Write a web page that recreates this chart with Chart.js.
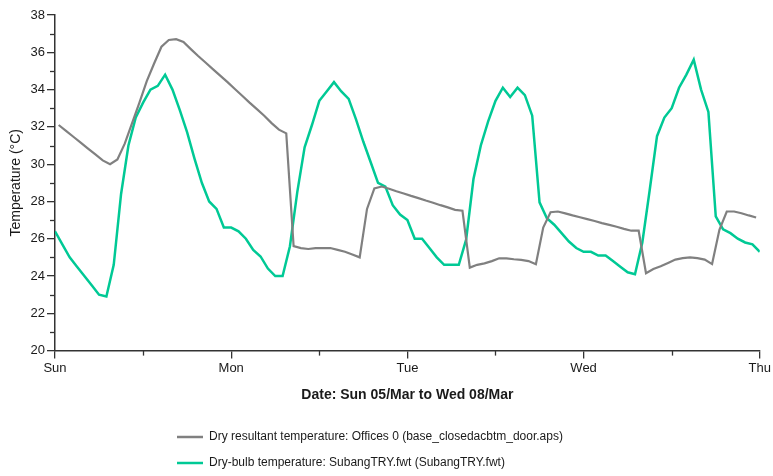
<!DOCTYPE html>
<html>
<head>
<meta charset="utf-8">
<script src="https://cdn.jsdelivr.net/npm/chart.js@4.4.1/dist/chart.umd.min.js"></script>
<style>
  html, body { margin: 0; padding: 0; background: #fff; }
  #wrap { width: 773px; height: 476px; position: relative; }
</style>
</head>
<body>
<div id="wrap"><canvas id="chart"></canvas></div>
<script>
/* ---------- data (hourly, Sun 00:00 -> Thu 00:00) ---------- */
var dayLabels = ['Sun', 'Mon', 'Tue', 'Wed', 'Thu'];
var hoursPerDay = 24;

// dry-bulb: one value per hour, hours 0..96
var dryBulb = [
  26.4, 25.7, 25.0, 24.5, 24.0, 23.5, 23.0, 22.9, 24.6, 28.4, 31.0, 32.5,
  33.3, 34.0, 34.2, 34.8, 34.0, 32.9, 31.7, 30.3, 29.0, 28.0, 27.6, 26.6,
  26.6, 26.4, 26.0, 25.4, 25.05, 24.4, 24.0, 24.0, 25.6, 28.5, 30.9, 32.1,
  33.4, 33.9, 34.4, 33.9, 33.5, 32.4, 31.2, 30.1, 29.0, 28.8, 27.8, 27.3,
  27.0, 26.0, 26.0, 25.5, 25.0, 24.6, 24.6, 24.6, 25.95, 29.2, 31.0, 32.3,
  33.4, 34.1, 33.6, 34.1, 33.7, 32.6, 27.95, 27.1, 26.75, 26.3, 25.85, 25.5,
  25.3, 25.3, 25.1, 25.1, 24.8, 24.5, 24.2, 24.1, 25.8, 28.6, 31.5, 32.5,
  33.0, 34.1, 34.8, 35.6, 34.0, 32.8, 27.2, 26.5, 26.3, 26.0, 25.8, 25.7,
  25.3
];

// dry resultant: hourly averages, plotted at the half hour (0.5 .. 95.5)
var dryResultant = [
  32.1, 31.78, 31.47, 31.15, 30.83, 30.52, 30.2, 30.0, 30.25, 31.1, 32.2, 33.3,
  34.45, 35.4, 36.3, 36.66, 36.7, 36.55, 36.17, 35.8, 35.45, 35.1, 34.75, 34.4,
  34.03, 33.67, 33.3, 32.95, 32.6, 32.2, 31.85, 31.65, 25.6, 25.5, 25.45, 25.5,
  25.5, 25.5, 25.4, 25.3, 25.15, 25.0, 27.6, 28.7, 28.8, 28.68, 28.55, 28.43,
  28.3, 28.18, 28.05, 27.93, 27.8, 27.68, 27.55, 27.5, 24.45, 24.6, 24.68, 24.8,
  24.95, 24.95, 24.9, 24.87, 24.8, 24.63, 26.6, 27.42, 27.46, 27.36, 27.25, 27.15,
  27.05, 26.95, 26.84, 26.74, 26.64, 26.53, 26.43, 26.43, 24.15, 24.38, 24.52, 24.7,
  24.88, 24.96, 25.0, 24.96, 24.88, 24.64, 26.48, 27.46, 27.46, 27.37, 27.25, 27.14
];
var resultantOffset = 0.5;

var seriesLabels = [
  'Dry resultant temperature: Offices 0 (base_closedacbtm_door.aps)',
  'Dry-bulb temperature: SubangTRY.fwt (SubangTRY.fwt)'
];
var xTitle = 'Date: Sun 05/Mar to Wed 08/Mar';
var yTitle = 'Temperature (\u00b0C)';
var yMin = 20, yMax = 38;

/* ---------- helpers ---------- */
var FONT = "'Liberation Sans', Arial, sans-serif";
var AXIS = '#333333';
var COLORS = ['#808080', '#00c995'];

function toPoints(arr, offset) {
  return arr.map(function (v, i) { return { x: i + offset, y: v }; });
}

// short ticks for the unlabelled (minor) positions
var minorTicks = {
  id: 'minorTicks',
  afterDraw: function (chart) {
    var ctx = chart.ctx;
    ctx.save();
    ctx.strokeStyle = AXIS;
    ctx.lineWidth = 1.3;
    var xs = chart.scales.x, ys = chart.scales.y;
    xs.ticks.forEach(function (t) {
      if (t.value % hoursPerDay === 0) return;
      var px = Math.round(xs.getPixelForValue(t.value)) + 0.5;
      ctx.beginPath(); ctx.moveTo(px, xs.top); ctx.lineTo(px, xs.top + 5); ctx.stroke();
    });
    ys.ticks.forEach(function (t) {
      if (t.value % 2 === 0) return;
      var py = Math.round(ys.getPixelForValue(t.value)) + 0.5;
      ctx.beginPath(); ctx.moveTo(ys.right - 5, py); ctx.lineTo(ys.right, py); ctx.stroke();
    });
    ctx.restore();
  }
};

// stacked legend, one entry per row, left aligned
var rowLegend = {
  id: 'rowLegend',
  afterDraw: function (chart) {
    var ctx = chart.ctx;
    ctx.save();
    ctx.font = '12px ' + FONT;
    ctx.textBaseline = 'middle';
    ctx.textAlign = 'left';
    chart.data.datasets.forEach(function (ds, i) {
      var y = 437 + i * 26;
      ctx.strokeStyle = ds.borderColor;
      ctx.lineWidth = 2.5;
      ctx.beginPath(); ctx.moveTo(177, y); ctx.lineTo(203, y); ctx.stroke();
      ctx.fillStyle = '#1a1a1a';
      ctx.fillText(ds.label, 209, y);
    });
    ctx.restore();
  }
};

new Chart(document.getElementById('chart'), {
  type: 'line',
  data: {
    datasets: [
      { label: seriesLabels[0], data: toPoints(dryResultant, resultantOffset),
        borderColor: COLORS[0], borderWidth: 2.2, pointRadius: 0, tension: 0, fill: false },
      { label: seriesLabels[1], data: toPoints(dryBulb, 0),
        borderColor: COLORS[1], borderWidth: 2.5, pointRadius: 0, tension: 0, fill: false }
    ]
  },
  options: {
    responsive: true, maintainAspectRatio: false, animation: false,
    layout: { padding: { top: 15, right: 12, bottom: 72, left: 0 } },
    plugins: { legend: { display: false }, tooltip: { enabled: false } },
    scales: {
      x: {
        type: 'linear', min: 0, max: (dayLabels.length - 1) * hoursPerDay,
        border: { display: true, color: AXIS, width: 1.5 },
        grid: {
          drawOnChartArea: false, drawTicks: true, tickLength: 8, lineWidth: 1.3,
          color: function (c) { return c.tick && c.tick.value % hoursPerDay === 0 ? AXIS : 'rgba(0,0,0,0)'; }
        },
        ticks: {
          stepSize: hoursPerDay / 2, autoSkip: false, maxRotation: 0, padding: 2,
          color: '#1a1a1a', font: { family: FONT, size: 13 },
          callback: function (v) { return v % hoursPerDay === 0 ? dayLabels[v / hoursPerDay] : ''; }
        },
        title: { display: true, text: xTitle, color: '#1a1a1a', padding: { top: 9, bottom: 0 },
          font: { family: FONT, size: 14, weight: 'bold' } }
      },
      y: {
        min: yMin, max: yMax,
        afterFit: function (s) { s.width = 55; },
        border: { display: true, color: AXIS, width: 1.5 },
        grid: {
          drawOnChartArea: false, drawTicks: true, tickLength: 8, lineWidth: 1.3,
          color: function (c) { return c.tick && c.tick.value % 2 === 0 ? AXIS : 'rgba(0,0,0,0)'; }
        },
        ticks: {
          stepSize: 1, autoSkip: false, padding: 2, color: '#1a1a1a',
          font: { family: FONT, size: 13 },
          callback: function (v) { return v % 2 === 0 ? String(v) : ''; }
        },
        title: { display: true, text: yTitle, color: '#1a1a1a', padding: { top: 8, bottom: 0 },
          font: { family: FONT, size: 14 } }
      }
    }
  },
  plugins: [minorTicks, rowLegend]
});
</script>
</body>
</html>
